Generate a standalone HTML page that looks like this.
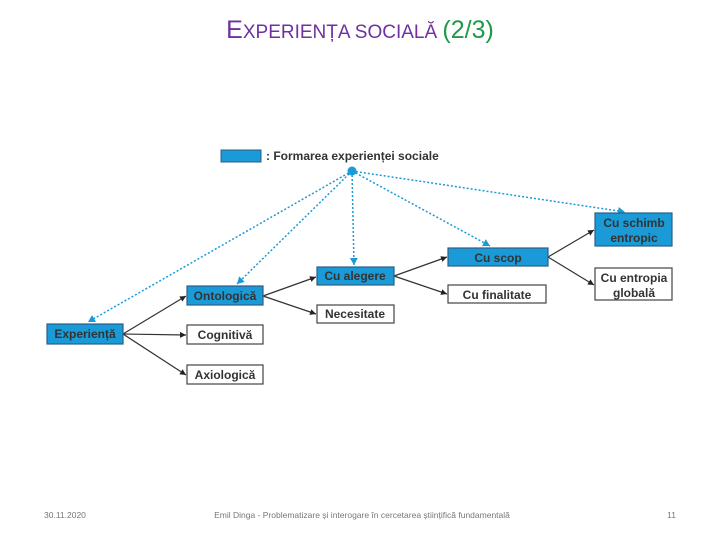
<!DOCTYPE html>
<html><head><meta charset="utf-8"><style>
html,body{margin:0;padding:0;background:#fff;}
body{width:720px;height:540px;overflow:hidden;}
</style></head><body>
<svg width="720" height="540" viewBox="0 0 720 540" xmlns="http://www.w3.org/2000/svg">
<defs>
<marker id="ab" markerWidth="8" markerHeight="8" refX="6" refY="3" orient="auto" markerUnits="userSpaceOnUse"><path d="M0,0 L6,3 L0,6 z" fill="#222"/></marker>
<marker id="ad" markerWidth="10" markerHeight="10" refX="7" refY="4" orient="auto" markerUnits="userSpaceOnUse"><path d="M0,0 L7,4 L0,8 z" fill="#1a9ad6"/></marker>
</defs>
<text x="360" y="38" text-anchor="middle" font-family="Liberation Sans, sans-serif" font-size="25"><tspan fill="#7030a0" font-size="25">E</tspan><tspan fill="#7030a0" font-size="19">XPERIENȚA SOCIALĂ </tspan><tspan fill="#1e9a48" font-size="25">(2/3)</tspan></text>

<g font-family="Liberation Sans, sans-serif" font-weight="bold" font-size="12" fill="#333">
<rect x="221" y="150" width="40" height="12" fill="#1a9ad6" stroke="#2d5f85"/>
<text x="266" y="160">: Formarea experienței sociale</text>
</g>

<g stroke="#1a9ad6" stroke-width="1.5" stroke-dasharray="2,2" fill="none" marker-end="url(#ad)">
<line x1="352" y1="171" x2="88" y2="322"/>
<line x1="352" y1="171" x2="237" y2="284"/>
<line x1="352" y1="171" x2="354" y2="265"/>
<line x1="352" y1="171" x2="490" y2="246"/>
<line x1="352" y1="171" x2="625" y2="212"/>
</g>
<circle cx="352" cy="171" r="4.5" fill="#1a9ad6"/>

<g stroke="#333" stroke-width="1.2" marker-end="url(#ab)">
<line x1="123" y1="334" x2="186" y2="296"/>
<line x1="123" y1="334" x2="186" y2="335"/>
<line x1="123" y1="334" x2="186" y2="375"/>
<line x1="263" y1="296" x2="316" y2="277"/>
<line x1="263" y1="296" x2="316" y2="314"/>
<line x1="394" y1="276" x2="447" y2="257"/>
<line x1="394" y1="276" x2="447" y2="294"/>
<line x1="548" y1="257" x2="594" y2="230"/>
<line x1="548" y1="257" x2="594" y2="285"/>
</g>

<g font-family="Liberation Sans, sans-serif" font-weight="bold" font-size="12" fill="#333" text-anchor="middle" stroke-width="1.2">
<rect x="47" y="324" width="76" height="20" fill="#1a9ad6" stroke="#2d5f85"/><text x="85" y="338">Experiență</text>
<rect x="187" y="286" width="76" height="19" fill="#1a9ad6" stroke="#2d5f85"/><text x="225" y="300">Ontologică</text>
<rect x="187" y="325" width="76" height="19" fill="#fff" stroke="#444"/><text x="225" y="339">Cognitivă</text>
<rect x="187" y="365" width="76" height="19" fill="#fff" stroke="#444"/><text x="225" y="379">Axiologică</text>
<rect x="317" y="267" width="77" height="18" fill="#1a9ad6" stroke="#2d5f85"/><text x="355" y="280">Cu alegere</text>
<rect x="317" y="305" width="77" height="18" fill="#fff" stroke="#444"/><text x="355" y="318">Necesitate</text>
<rect x="448" y="248" width="100" height="18" fill="#1a9ad6" stroke="#2d5f85"/><text x="498" y="262">Cu scop</text>
<rect x="448" y="285" width="98" height="18" fill="#fff" stroke="#444"/><text x="497" y="299">Cu finalitate</text>
<rect x="595" y="213" width="77" height="33" fill="#1a9ad6" stroke="#2d5f85"/><text x="634" y="227">Cu schimb</text><text x="634" y="242">entropic</text>
<rect x="595" y="268" width="77" height="32" fill="#fff" stroke="#444"/><text x="634" y="282">Cu entropia</text><text x="634" y="297">globală</text>
</g>

<g font-family="Liberation Sans, sans-serif" font-size="8.5" fill="#777">
<text x="44" y="518">30.11.2020</text>
<text x="362" y="518" text-anchor="middle">Emil Dinga - Problematizare și interogare în cercetarea științifică fundamentală</text>
<text x="676" y="518" text-anchor="end">11</text>
</g>
</svg>
</body></html>
